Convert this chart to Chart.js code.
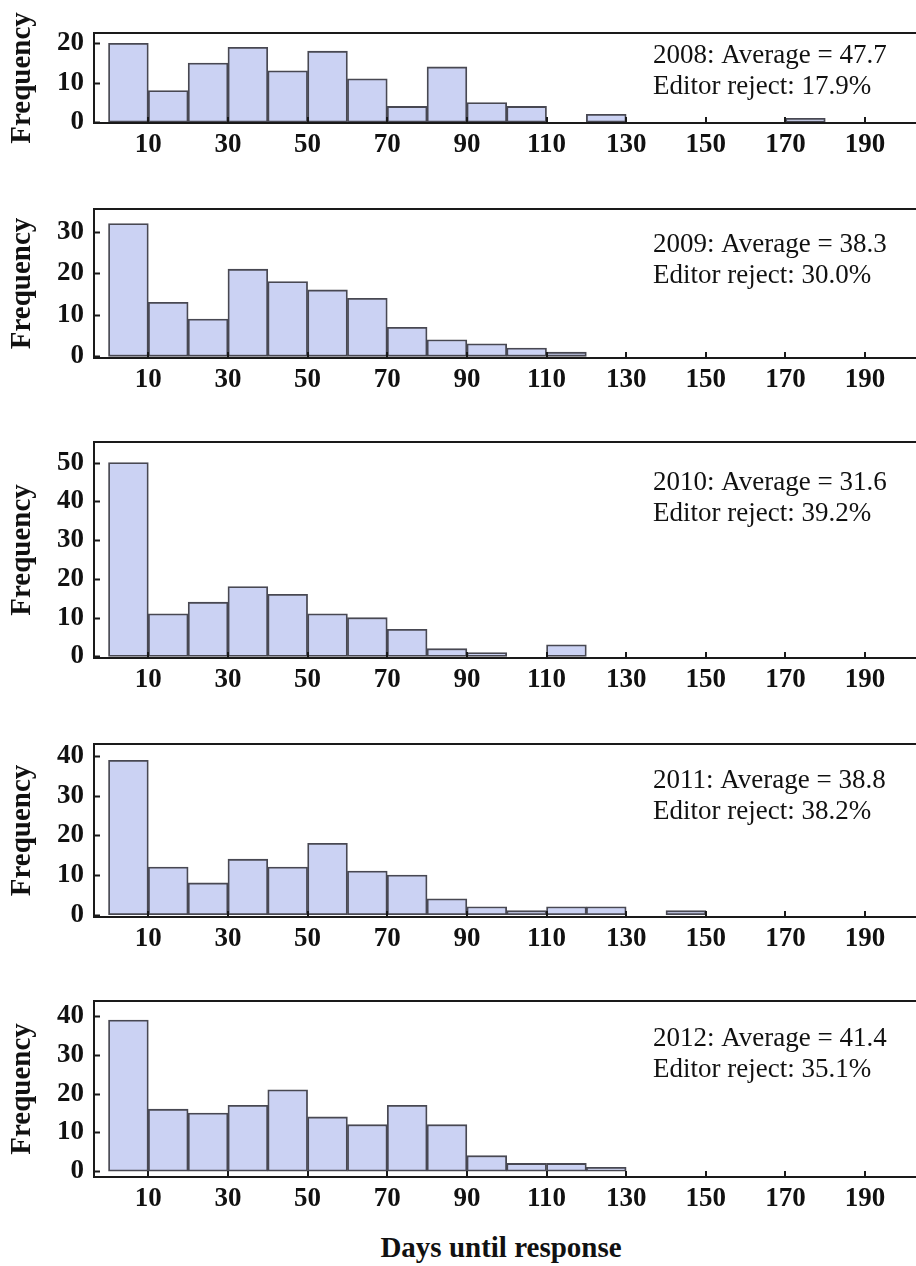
<!DOCTYPE html>
<html>
<head>
<meta charset="utf-8">
<script src="https://cdn.jsdelivr.net/npm/chart.js@4.4.0/dist/chart.umd.min.js"></script>
<style>
  body { margin: 0; width: 916px; height: 1266px; overflow: hidden; background: #fff; position: relative; }
  canvas { position: absolute; left: 0; }
  #xtitle { position: absolute; left: 0; width: 1002px; top: 1230px; text-align: center;
            font: bold 29px "Liberation Serif"; color: #111; line-height: 34px; }
</style>
</head>
<body>
<div id="xtitle">Days until response</div>
<script>
// bins of 10 days, 0-200
var binStarts = [0, 10, 20, 30, 40, 50, 60, 70, 80, 90, 100, 110, 120, 130, 140, 150, 160, 170, 180, 190];
var xTicks = [10, 30, 50, 70, 90, 110, 130, 150, 170, 190];

var years = ['2008', '2009', '2010', '2011', '2012'];
var averages = ['47.7', '38.3', '31.6', '38.8', '41.4'];
var rejects = ['17.9%', '30.0%', '39.2%', '38.2%', '35.1%'];

var freq2008 = [20, 8, 15, 19, 13, 18, 11, 4, 14, 5, 4, 0, 2, 0, 0, 0, 0, 1, 0, 0];
var freq2009 = [32, 13, 9, 21, 18, 16, 14, 7, 4, 3, 2, 1, 0, 0, 0, 0, 0, 0, 0, 0];
var freq2010 = [50, 11, 14, 18, 16, 11, 10, 7, 2, 1, 0, 3, 0, 0, 0, 0, 0, 0, 0, 0];
var freq2011 = [39, 12, 8, 14, 12, 18, 11, 10, 4, 2, 1, 2, 2, 0, 1, 0, 0, 0, 0, 0];
var freq2012 = [39, 16, 15, 17, 21, 14, 12, 17, 12, 4, 2, 2, 1, 0, 0, 0, 0, 0, 0, 0];

var yTicks2008 = [0, 10, 20];
var yTicks2009 = [0, 10, 20, 30];
var yTicks2010 = [0, 10, 20, 30, 40, 50];
var yTicks2011 = [0, 10, 20, 30, 40];
var yTicks2012 = [0, 10, 20, 30, 40];

var freqs = [freq2008, freq2009, freq2010, freq2011, freq2012];
var yTicksAll = [yTicks2008, yTicks2009, yTicks2010, yTicks2011, yTicks2012];

// plot area placement on the page
var panels = [
  { top: 33,   bottom: 123,  yMin: -0.2, yMax: 22.6, textTop: 12 },
  { top: 209,  bottom: 358,  yMin: -0.4, yMax: 35.5, textTop: 25 },
  { top: 442,  bottom: 658,  yMin: -0.4, yMax: 55.3, textTop: 30 },
  { top: 744,  bottom: 917,  yMin: -0.6, yMax: 43.1, textTop: 26 },
  { top: 1001, bottom: 1177, yMin: -1.5, yMax: 43.9, textTop: 27 }
];

var serif = '"Liberation Serif", "DejaVu Serif", serif';
var PAD_TOP = 30, XAXIS_H = 45;

var framePlugin = {
  id: 'frame',
  afterDatasetsDraw: function(chart, args, opts) {
    var ctx = chart.ctx, a = chart.chartArea, sx = chart.scales.x, sy = chart.scales.y;
    ctx.save();
    ctx.strokeStyle = '#1a1a1a';
    ctx.lineWidth = 2;
    ctx.strokeRect(a.left, a.top, a.right - a.left, a.bottom - a.top);
    // tick marks point inward
    ctx.beginPath();
    sy.ticks.forEach(function(t) {
      var y = Math.round(sy.getPixelForValue(t.value)) + 0.5;
      ctx.moveTo(a.left, y); ctx.lineTo(a.left + 6, y);
    });
    sx.ticks.forEach(function(t) {
      var x = Math.round(sx.getPixelForValue(t.value));
      ctx.moveTo(x, a.bottom); ctx.lineTo(x, a.bottom - 6);
    });
    ctx.stroke();
    // annotation text
    ctx.fillStyle = '#111';
    ctx.font = '27px ' + serif;
    ctx.textBaseline = 'alphabetic';
    ctx.textAlign = 'left';
    var base = a.top + opts.textTop + 18;
    opts.lines.forEach(function(line, i) {
      ctx.fillText(line, 653, base + i * 31);
    });
    ctx.restore();
  }
};

panels.forEach(function(p, i) {
  var cv = document.createElement('canvas');
  var h = PAD_TOP + (p.bottom - p.top) + XAXIS_H;
  cv.width = 932;
  cv.height = h;
  cv.style.top = (p.top - PAD_TOP) + 'px';
  document.body.appendChild(cv);

  var yt = yTicksAll[i];
  new Chart(cv.getContext('2d'), {
    type: 'bar',
    data: {
      datasets: [{
        data: binStarts.map(function(b, k) { return { x: b + 5, y: freqs[i][k] }; }),
        backgroundColor: 'rgb(203, 210, 243)',
        borderColor: 'rgb(72, 72, 82)',
        borderWidth: 1.8,
        borderSkipped: false,
        barPercentage: 1,
        categoryPercentage: 1
      }]
    },
    plugins: [framePlugin],
    options: {
      responsive: false,
      animation: false,
      layout: { padding: { top: PAD_TOP, left: 0, right: 2, bottom: 0 } },
      plugins: {
        legend: { display: false },
        tooltip: { enabled: false },
        frame: {
          textTop: p.textTop,
          lines: [years[i] + ': Average = ' + averages[i], 'Editor reject: ' + rejects[i]]
        }
      },
      scales: {
        x: {
          type: 'linear',
          offset: false,
          min: -3.64,
          max: 206.3,
          grid: { display: false, drawTicks: false, offset: false },
          border: { display: false },
          afterBuildTicks: function(s) { s.ticks = xTicks.map(function(v) { return { value: v }; }); },
          afterFit: function(s) { s.height = XAXIS_H; s.paddingLeft = 0; s.paddingRight = 0; },
          ticks: {
            autoSkip: false, maxRotation: 0, padding: 6, color: '#111',
            font: { family: serif, size: 27, weight: 'bold' }
          }
        },
        y: {
          min: p.yMin,
          max: p.yMax,
          grid: { display: false, drawTicks: false },
          border: { display: false },
          afterBuildTicks: function(s) { s.ticks = yt.map(function(v) { return { value: v }; }); },
          afterFit: function(s) { s.width = 94; s.paddingTop = 0; s.paddingBottom = 0; },
          ticks: {
            padding: 10, color: '#111',
            font: { family: serif, size: 27, weight: 'bold' }
          },
          title: {
            display: true, text: 'Frequency', color: '#111',
            font: { family: serif, size: 29, weight: 'bold' },
            padding: { top: 5, bottom: 0 }
          }
        }
      }
    }
  });
});
</script>
</body>
</html>
